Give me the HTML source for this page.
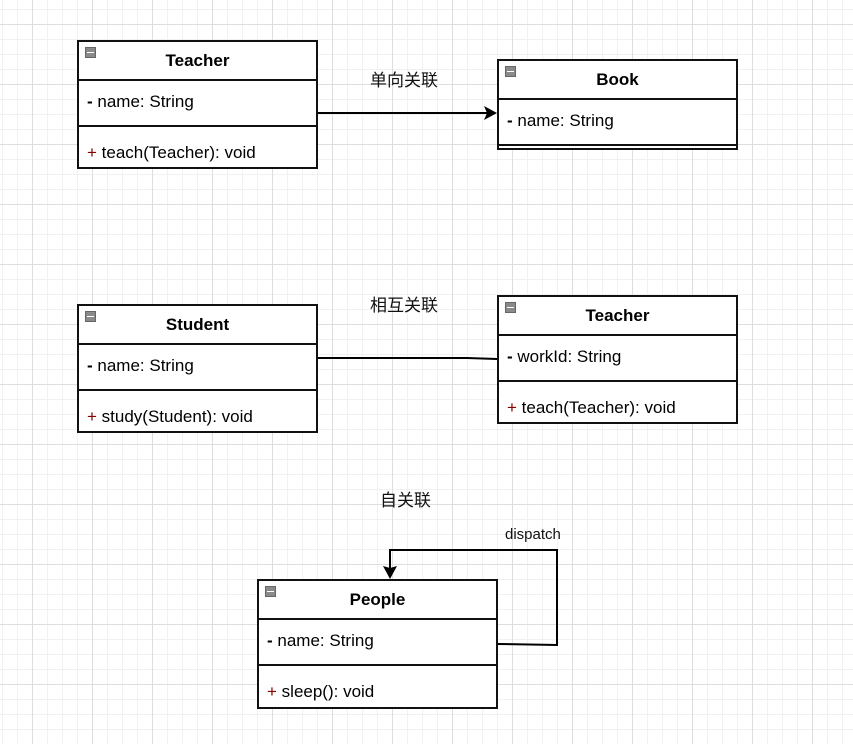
<!DOCTYPE html>
<html><head><meta charset="utf-8"><style>
body{margin:0;width:853px;height:744px;overflow:hidden;background:#fff;
background-image:
linear-gradient(to right,#dedede 1px,transparent 1px),
linear-gradient(to bottom,#dedede 1px,transparent 1px),
linear-gradient(to right,#f1f1f1 1px,transparent 1px),
linear-gradient(to bottom,#f1f1f1 1px,transparent 1px);
background-size:60px 60px,60px 60px,15px 15px,15px 15px;
background-position:32px 0,0 24px,2px 0,0 9px;
font-family:"Liberation Sans",Arial,sans-serif;position:relative}
.c{position:absolute;border:2px solid #111;background:#fff;box-sizing:border-box;width:241px}
.h{height:37px;border-bottom:2px solid #111;text-align:center;font-weight:bold;font-size:17px;line-height:38px;position:relative}
.h:before{content:"";position:absolute;left:6px;top:5px;width:11px;height:11px;background:#8a8a8a;border:1px solid #666;box-sizing:border-box}
.h:after{content:"";position:absolute;left:8px;top:10px;width:7px;height:1px;background:#fff}
.a{height:46px;border-bottom:2px solid #111;font-size:17px;line-height:42px;padding-left:8px;box-sizing:border-box}
.m{font-size:17px;line-height:52px;padding-left:8px;height:42px}
.m b{font-weight:normal;color:#800}
.l{position:absolute;font-size:17px;font-family:"Liberation Sans","Noto Sans CJK SC",sans-serif;color:#111}
</style></head><body>
<div class="c" style="left:77px;top:40px;height:129px"><div class="h">Teacher</div><div class="a"><b>-</b> name: String</div><div class="m"><b>+</b> teach(Teacher): void</div></div>
<div class="c" style="left:497px;top:59px;height:91px"><div class="h">Book</div><div class="a"><b>-</b> name: String</div></div>
<div class="c" style="left:77px;top:304px;height:129px"><div class="h">Student</div><div class="a"><b>-</b> name: String</div><div class="m"><b>+</b> study(Student): void</div></div>
<div class="c" style="left:497px;top:295px;height:129px"><div class="h">Teacher</div><div class="a"><b>-</b> workId: String</div><div class="m"><b>+</b> teach(Teacher): void</div></div>
<div class="c" style="left:257px;top:579px;height:130px"><div class="h">People</div><div class="a"><b>-</b> name: String</div><div class="m"><b>+</b> sleep(): void</div></div>
<svg width="853" height="744" style="position:absolute;left:0;top:0">
<g stroke="#000" stroke-width="2" fill="none">
<path d="M318 113H487"/>
<path d="M318 358H467L497 359"/>
<path d="M498 644L557 645V550H390V569"/>
</g>
<path d="M497 113L484 106L487 113L484 120Z" fill="#000"/>
<path d="M390 579L383 566L390 568L397 566Z" fill="#000"/>
</svg>
<div class="l" style="left:370px;top:66px">单向关联</div>
<div class="l" style="left:370px;top:291px">相互关联</div>
<div class="l" style="left:380px;top:486px">自关联</div>
<div class="l" style="left:505px;top:526px;font-size:15px">dispatch</div>
</body></html>
